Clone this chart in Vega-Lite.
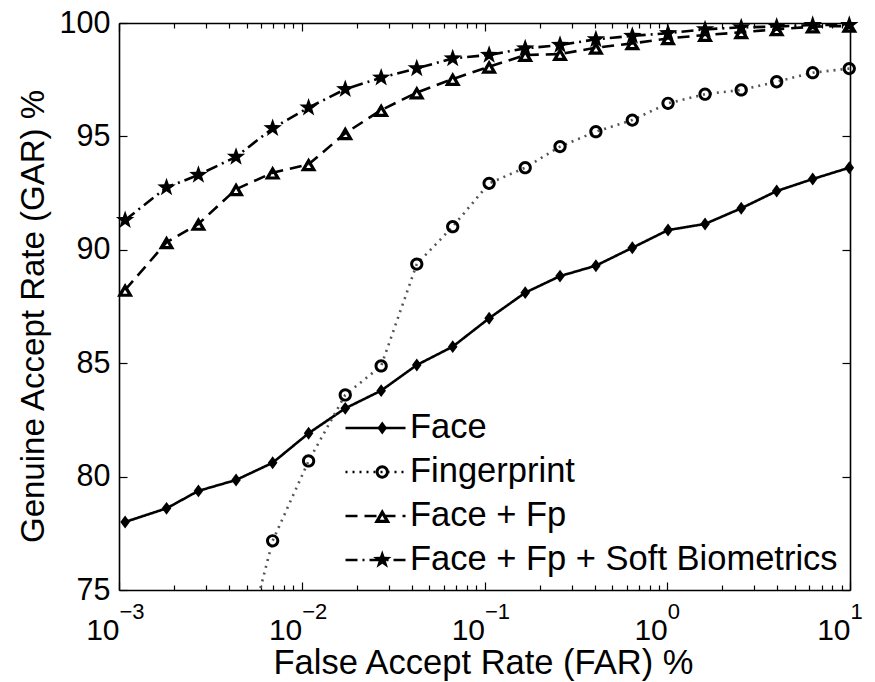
{
  "$schema": "https://vega.github.io/schema/vega-lite/v6.json",
  "width": 731,
  "height": 567,
  "autosize": {"type": "none"},
  "padding": {"left": 119, "top": 23, "right": 25, "bottom": 92},
  "background": "white",
  "data": {"name": "rates"},
  "datasets": {
    "rates": [
      {"series": "Face", "FAR": 0.00108, "GAR": 78.0},
      {"series": "Face", "FAR": 0.00182, "GAR": 78.6},
      {"series": "Face", "FAR": 0.00272, "GAR": 79.37},
      {"series": "Face", "FAR": 0.00437, "GAR": 79.85},
      {"series": "Face", "FAR": 0.00693, "GAR": 80.61},
      {"series": "Face", "FAR": 0.0109, "GAR": 81.91},
      {"series": "Face", "FAR": 0.0173, "GAR": 83.01},
      {"series": "Face", "FAR": 0.0272, "GAR": 83.79},
      {"series": "Face", "FAR": 0.0426, "GAR": 84.92},
      {"series": "Face", "FAR": 0.067, "GAR": 85.73},
      {"series": "Face", "FAR": 0.106, "GAR": 86.98},
      {"series": "Face", "FAR": 0.167, "GAR": 88.11},
      {"series": "Face", "FAR": 0.259, "GAR": 88.84},
      {"series": "Face", "FAR": 0.407, "GAR": 89.3},
      {"series": "Face", "FAR": 0.644, "GAR": 90.09},
      {"series": "Face", "FAR": 1.01, "GAR": 90.87},
      {"series": "Face", "FAR": 1.61, "GAR": 91.14},
      {"series": "Face", "FAR": 2.54, "GAR": 91.83},
      {"series": "Face", "FAR": 3.97, "GAR": 92.59},
      {"series": "Face", "FAR": 6.25, "GAR": 93.12},
      {"series": "Face", "FAR": 9.91, "GAR": 93.62},

      {"series": "Fingerprint", "FAR": 0.00437, "GAR": 70.9},
      {"series": "Fingerprint", "FAR": 0.00693, "GAR": 77.17},
      {"series": "Fingerprint", "FAR": 0.0109, "GAR": 80.69},
      {"series": "Fingerprint", "FAR": 0.0173, "GAR": 83.6},
      {"series": "Fingerprint", "FAR": 0.0272, "GAR": 84.88},
      {"series": "Fingerprint", "FAR": 0.0426, "GAR": 89.37},
      {"series": "Fingerprint", "FAR": 0.067, "GAR": 91.02},
      {"series": "Fingerprint", "FAR": 0.106, "GAR": 92.93},
      {"series": "Fingerprint", "FAR": 0.167, "GAR": 93.62},
      {"series": "Fingerprint", "FAR": 0.259, "GAR": 94.55},
      {"series": "Fingerprint", "FAR": 0.407, "GAR": 95.21},
      {"series": "Fingerprint", "FAR": 0.644, "GAR": 95.72},
      {"series": "Fingerprint", "FAR": 1.01, "GAR": 96.46},
      {"series": "Fingerprint", "FAR": 1.61, "GAR": 96.86},
      {"series": "Fingerprint", "FAR": 2.54, "GAR": 97.05},
      {"series": "Fingerprint", "FAR": 3.97, "GAR": 97.41},
      {"series": "Fingerprint", "FAR": 6.25, "GAR": 97.81},
      {"series": "Fingerprint", "FAR": 9.91, "GAR": 97.99},

      {"series": "Face + Fp", "FAR": 0.00108, "GAR": 88.23},
      {"series": "Face + Fp", "FAR": 0.00182, "GAR": 90.33},
      {"series": "Face + Fp", "FAR": 0.00272, "GAR": 91.14},
      {"series": "Face + Fp", "FAR": 0.00437, "GAR": 92.67},
      {"series": "Face + Fp", "FAR": 0.00693, "GAR": 93.4},
      {"series": "Face + Fp", "FAR": 0.0109, "GAR": 93.77},
      {"series": "Face + Fp", "FAR": 0.0173, "GAR": 95.14},
      {"series": "Face + Fp", "FAR": 0.0272, "GAR": 96.16},
      {"series": "Face + Fp", "FAR": 0.0426, "GAR": 96.93},
      {"series": "Face + Fp", "FAR": 0.067, "GAR": 97.53},
      {"series": "Face + Fp", "FAR": 0.106, "GAR": 98.07},
      {"series": "Face + Fp", "FAR": 0.167, "GAR": 98.59},
      {"series": "Face + Fp", "FAR": 0.259, "GAR": 98.63},
      {"series": "Face + Fp", "FAR": 0.407, "GAR": 98.91},
      {"series": "Face + Fp", "FAR": 0.644, "GAR": 99.1},
      {"series": "Face + Fp", "FAR": 1.01, "GAR": 99.32},
      {"series": "Face + Fp", "FAR": 1.61, "GAR": 99.47},
      {"series": "Face + Fp", "FAR": 2.54, "GAR": 99.59},
      {"series": "Face + Fp", "FAR": 3.97, "GAR": 99.72},
      {"series": "Face + Fp", "FAR": 6.25, "GAR": 99.84},
      {"series": "Face + Fp", "FAR": 9.91, "GAR": 99.87},

      {"series": "Face + Fp + Soft Biometrics", "FAR": 0.00108, "GAR": 91.31},
      {"series": "Face + Fp + Soft Biometrics", "FAR": 0.00182, "GAR": 92.75},
      {"series": "Face + Fp + Soft Biometrics", "FAR": 0.00272, "GAR": 93.3},
      {"series": "Face + Fp + Soft Biometrics", "FAR": 0.00437, "GAR": 94.1},
      {"series": "Face + Fp + Soft Biometrics", "FAR": 0.00693, "GAR": 95.36},
      {"series": "Face + Fp + Soft Biometrics", "FAR": 0.0109, "GAR": 96.27},
      {"series": "Face + Fp + Soft Biometrics", "FAR": 0.0173, "GAR": 97.08},
      {"series": "Face + Fp + Soft Biometrics", "FAR": 0.0272, "GAR": 97.59},
      {"series": "Face + Fp + Soft Biometrics", "FAR": 0.0426, "GAR": 98.0},
      {"series": "Face + Fp + Soft Biometrics", "FAR": 0.067, "GAR": 98.44},
      {"series": "Face + Fp + Soft Biometrics", "FAR": 0.106, "GAR": 98.59},
      {"series": "Face + Fp + Soft Biometrics", "FAR": 0.167, "GAR": 98.88},
      {"series": "Face + Fp + Soft Biometrics", "FAR": 0.259, "GAR": 99.03},
      {"series": "Face + Fp + Soft Biometrics", "FAR": 0.407, "GAR": 99.28},
      {"series": "Face + Fp + Soft Biometrics", "FAR": 0.644, "GAR": 99.43},
      {"series": "Face + Fp + Soft Biometrics", "FAR": 1.01, "GAR": 99.55},
      {"series": "Face + Fp + Soft Biometrics", "FAR": 1.61, "GAR": 99.72},
      {"series": "Face + Fp + Soft Biometrics", "FAR": 2.54, "GAR": 99.81},
      {"series": "Face + Fp + Soft Biometrics", "FAR": 3.97, "GAR": 99.84},
      {"series": "Face + Fp + Soft Biometrics", "FAR": 6.25, "GAR": 99.91},
      {"series": "Face + Fp + Soft Biometrics", "FAR": 9.91, "GAR": 99.91}
    ]
  },
  "layer": [
    {
      "mark": {"type": "line", "clip": true, "strokeWidth": 2.6},
      "encoding": {
        "x": {
          "field": "FAR", "type": "quantitative",
          "scale": {"type": "log", "domain": [0.001, 10], "nice": false},
          "axis": {
            "orient": "bottom",
            "values": [0.001, 0.002, 0.003, 0.004, 0.005, 0.006, 0.007, 0.008, 0.009, 0.01, 0.02, 0.03, 0.04, 0.05, 0.06, 0.07, 0.08, 0.09, 0.1, 0.2, 0.3, 0.4, 0.5, 0.6, 0.7, 0.8, 0.9, 1, 2, 3, 4, 5, 6, 7, 8, 9, 10],
            "labelExpr": "abs(log(datum.value)/LN10 - round(log(datum.value)/LN10)) < 0.001 ? '10' : ''",
            "tickSize": {"condition": {"test": "abs(log(datum.value)/LN10 - round(log(datum.value)/LN10)) < 0.001", "value": -8}, "value": -5},
            "labelFontSize": 30,
            "labelAlign": "right",
            "labelBaseline": "alphabetic",
            "labelDx": 3,
            "labelPadding": 57,
            "labelOverlap": false,
            "labelFlush": false,
            "labelBound": false,
            "title": "False Accept Rate (FAR) %",
            "titleFontSize": 34.5,
            "titleX": 364,
            "titleY": 83,
            "titleAlign": "center",
            "titleBaseline": "alphabetic"
          }
        },
        "y": {
          "field": "GAR", "type": "quantitative",
          "scale": {"domain": [75, 100], "nice": false, "zero": false},
          "axis": {
            "orient": "left",
            "values": [75, 80, 85, 90, 95, 100],
            "tickSize": -8,
            "labelPadding": 17,
            "labelFontSize": 30.5,
            "labelAlign": "right",
            "labelBaseline": "middle",
            "labelDy": 2,
            "labelFlush": false,
            "labelOverlap": false,
            "title": "Genuine Accept Rate (GAR) %",
            "titleFontSize": 33,
            "titleAngle": -90,
            "titleX": -76,
            "titleY": 293,
            "titleAlign": "center",
            "titleBaseline": "alphabetic"
          }
        },
        "strokeDash": {
          "field": "series", "type": "nominal",
          "scale": {
            "domain": ["Face", "Fingerprint", "Face + Fp", "Face + Fp + Soft Biometrics"],
            "range": [[1, 0], [2, 5], [12, 7], [12, 5, 2, 5]]
          },
          "legend": {
            "title": null,
            "orient": "none",
            "legendX": 225,
            "legendY": 395,
            "symbolType": "stroke",
            "symbolSize": 3600,
            "symbolStrokeWidth": 2.6,
            "symbolStrokeColor": "black",
            "clipHeight": 20,
            "labelFontSize": 34.5,
            "labelColor": "black",
            "labelOffset": 3,
            "labelLimit": 0,
            "rowPadding": 9,
            "padding": 0
          }
        },
        "stroke": {
          "field": "series", "type": "nominal",
          "scale": {
            "domain": ["Face", "Fingerprint", "Face + Fp", "Face + Fp + Soft Biometrics"],
            "range": ["#000000", "#555555", "#000000", "#000000"]
          },
          "legend": null
        }
      }
    },
    {
      "transform": [{"filter": "datum.GAR >= 75"}],
      "mark": {"type": "point", "filled": true, "color": "black", "opacity": 1, "size": 340},
      "encoding": {
        "x": {
          "field": "FAR", "type": "quantitative",
          "scale": {"type": "log", "domain": [0.001, 10], "nice": false},
          "axis": {
            "orient": "top",
            "values": [0.001, 0.002, 0.003, 0.004, 0.005, 0.006, 0.007, 0.008, 0.009, 0.01, 0.02, 0.03, 0.04, 0.05, 0.06, 0.07, 0.08, 0.09, 0.1, 0.2, 0.3, 0.4, 0.5, 0.6, 0.7, 0.8, 0.9, 1, 2, 3, 4, 5, 6, 7, 8, 9, 10],
            "labels": false,
            "tickSize": {"condition": {"test": "abs(log(datum.value)/LN10 - round(log(datum.value)/LN10)) < 0.001", "value": -8}, "value": -5},
            "title": null
          }
        },
        "y": {
          "field": "GAR", "type": "quantitative",
          "scale": {"domain": [75, 100], "nice": false, "zero": false},
          "axis": {
            "orient": "right",
            "values": [75, 80, 85, 90, 95, 100],
            "tickSize": -8,
            "labels": false,
            "title": null
          }
        },
        "shape": {
          "field": "series", "type": "nominal",
          "scale": {
            "domain": ["Face", "Fingerprint", "Face + Fp", "Face + Fp + Soft Biometrics"],
            "range": [
              "M0,-0.7 L0.52,0 L0,0.7 L-0.52,0 Z",
              "M0.72,0 C0.72,0.3977 0.3977,0.72 0,0.72 C-0.3977,0.72 -0.72,0.3977 -0.72,0 C-0.72,-0.3977 -0.3977,-0.72 0,-0.72 C0.3977,-0.72 0.72,-0.3977 0.72,0 Z M0.4,0 C0.4,-0.2209 0.2209,-0.4 0,-0.4 C-0.2209,-0.4 -0.4,-0.2209 -0.4,0 C-0.4,0.2209 -0.2209,0.4 0,0.4 C0.2209,0.4 0.4,0.2209 0.4,0 Z",
              "M0,-0.75 L0.875,0.75 L-0.875,0.75 Z M0,-0.05 L-0.26,0.4 L0.26,0.4 Z",
              "M0,-1.05 L0.247,-0.34 L0.999,-0.324 L0.399,0.13 L0.617,0.849 L0,0.42 L-0.617,0.849 L-0.399,0.13 L-0.999,-0.324 L-0.247,-0.34 Z"
            ]
          },
          "legend": {
            "title": null,
            "orient": "none",
            "legendX": 246,
            "legendY": 395,
            "symbolSize": 340,
            "symbolStrokeWidth": 0,
            "clipHeight": 20,
            "labelFontSize": 34.5,
            "labelExpr": "' '",
            "labelOffset": 3,
            "labelLimit": 0,
            "rowPadding": 9,
            "padding": 0
          }
        }
      }
    },
    {
      "mark": {"type": "point", "opacity": 0},
      "encoding": {
        "x": {
          "field": "FAR", "type": "quantitative",
          "scale": {"type": "log", "domain": [0.001, 10], "nice": false},
          "axis": {
            "orient": "bottom",
            "values": [0.001, 0.01, 0.1, 1, 10],
            "labelExpr": "format(round(log(datum.value)/LN10), 'd')",
            "ticks": false,
            "domain": false,
            "labelFontSize": 22,
            "labelAlign": "left",
            "labelBaseline": "alphabetic",
            "labelDx": 7,
            "labelPadding": 28,
            "labelOverlap": false,
            "labelFlush": false,
            "labelBound": false,
            "title": null
          }
        }
      }
    }
  ],
  "resolve": {
    "axis": {"x": "independent", "y": "independent"},
    "legend": {"strokeDash": "independent", "shape": "independent"}
  },
  "config": {
    "view": {"stroke": null},
    "font": "Liberation Sans",
    "axis": {
      "labelFont": "Liberation Sans",
      "titleFont": "Liberation Sans",
      "labelColor": "#000000",
      "titleColor": "#000000",
      "titleFontWeight": "normal",
      "grid": false,
      "tickColor": "#000000",
      "tickWidth": 1.2,
      "domainColor": "#000000",
      "domainWidth": 1.6
    },
    "legend": {
      "labelFont": "Liberation Sans",
      "labelColor": "#000000"
    }
  }
}
